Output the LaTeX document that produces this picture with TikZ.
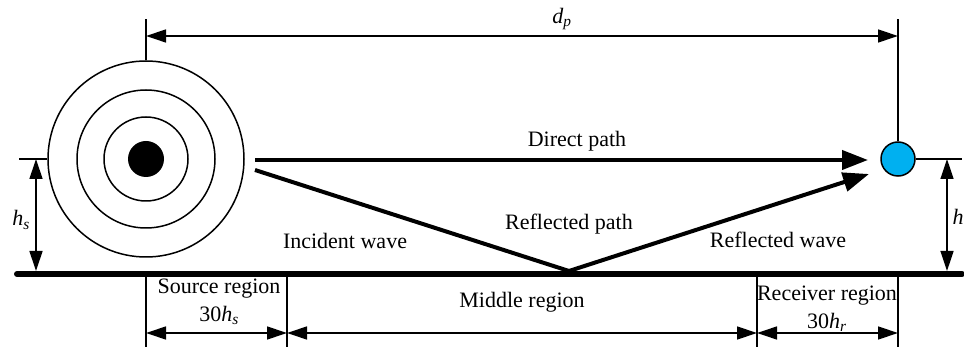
\documentclass[tikz,border=0pt]{standalone}
\usepackage{fontspec}
\setmainfont{Liberation Serif}
\usetikzlibrary{arrows.meta}
\newcommand\isub[2]{\textit{#1}\textsubscript{\textit{#2}}}
\tikzset{
  thinline/.style={line width=1.3pt},
  dimarrow/.style={line width=1.3pt, {Triangle[length=20pt,width=13pt]}-{Triangle[length=20pt,width=13pt]}},
  patharrow/.style={line width=4pt, -{Triangle[length=26pt,width=19pt]}},
  pathline/.style={line width=4pt},
  ring/.style={circle, draw, line width=1.5pt, inner sep=0pt},
  lbl/.style={font=\fontsize{22}{24}\selectfont, inner sep=0pt},
}
\begin{document}
\begin{tikzpicture}[x=1pt,y=-1pt]
\useasboundingbox (0,0) rectangle (964,347);
% source
\node[ring, minimum size=196pt] (src) at (146,159) {};
\node[ring, minimum size=138pt] (src2) at (146,159) {};
\node[ring, minimum size=84pt] (src3) at (146,159) {};
\node[circle, fill=black, inner sep=0pt, minimum size=36pt] (dot) at (146,159) {};
% receiver
\node[circle, draw, line width=1.5pt, fill={rgb,255:red,0;green,176;blue,240}, inner sep=0pt, minimum size=34pt] (rcv) at (898,159) {};
% ground
\coordinate (gl) at (17,274);
\coordinate (gr) at (962,274);
\draw[line width=6pt, line cap=round] (gl) -- (gr);
% top dimension
\coordinate (tl) at (146,19);
\coordinate (tr) at (898,19);
\coordinate (dl) at (146,36);
\coordinate (dr) at (898,36);
\draw[thinline] (src.north) -- (tl);
\draw[thinline] (rcv.north) -- (tr);
\draw[dimarrow] (dl) -- (dr);
\node[lbl] (dp) at (562,19) {\isub{d}{p}};
% h_s
\coordinate (hsl) at (19,159);
\coordinate (hst) at (36,159);
\coordinate (hsb) at (36,271);
\draw[thinline] (hsl) -- (src.west);
\draw[dimarrow] (hst) -- (hsb);
\node[lbl] (hs) at (21,220) {\isub{h}{s}};
% h
\coordinate (hr) at (962,159);
\coordinate (ht) at (947,159);
\coordinate (hb) at (947,271);
\draw[thinline] (rcv.east) -- (hr);
\draw[dimarrow] (ht) -- (hb);
\node[lbl] (hlab) at (958,217) {\textit{h}};
% paths
\coordinate (ds) at (255,160);
\coordinate (de) at (868,160);
\draw[patharrow] (ds) -- (de);
\node[lbl] (direct) at (577,141) {Direct path};
\coordinate (rs) at (255,170);
\coordinate (rm) at (569,271);
\coordinate (re) at (869,174);
\draw[pathline, line join=miter] (rs) -- (rm);
\draw[patharrow] (rm) -- (re);
\node[lbl] (refl) at (569,224) {Reflected path};
\node[lbl] (inc) at (345,241) {Incident wave};
\node[lbl] (rwave) at (778,240) {Reflected wave};
% bottom regions
\coordinate (b1t) at (146,274);
\coordinate (b1b) at (146,347);
\coordinate (b2t) at (287,274);
\coordinate (b2b) at (287,347);
\coordinate (b3t) at (757,274);
\coordinate (b3b) at (757,347);
\coordinate (b4t) at (898,274);
\coordinate (b4b) at (898,347);
\draw[thinline] (b1t) -- (b1b);
\draw[thinline] (b2t) -- (b2b);
\draw[thinline] (b3t) -- (b3b);
\draw[thinline] (b4t) -- (b4b);
\coordinate (a1) at (146,333);
\coordinate (a2) at (287,333);
\coordinate (a3) at (757,333);
\coordinate (a4) at (898,333);
\draw[dimarrow] (a1) -- (a2);
\draw[dimarrow] (a2) -- (a3);
\draw[dimarrow] (a3) -- (a4);
\node[lbl] (srcreg) at (219,289) {Source region};
\node[lbl] (srcval) at (219,315) {30\isub{h}{s}};
\node[lbl] (midreg) at (522,302) {Middle region};
\node[lbl] (rcvreg) at (827,296) {Receiver region};
\node[lbl] (rcvval) at (827,322) {30\isub{h}{r}};
\end{tikzpicture}
\end{document}
